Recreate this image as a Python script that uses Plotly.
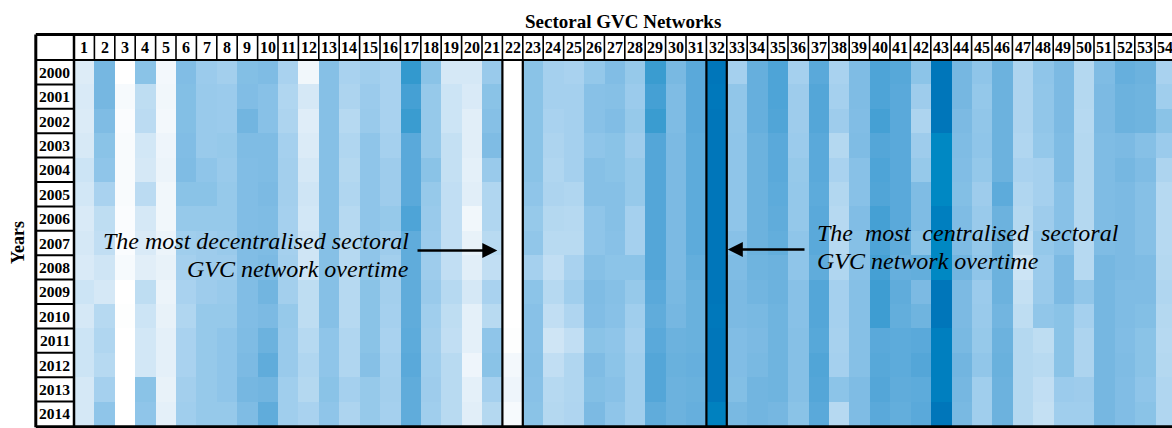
import plotly.graph_objects as go

# Sectors (columns) and years (rows)
sectors = list(range(1, 55))
years = [str(y) for y in range(2000, 2015)]

# Centralisation score per sector, one list per year (0 = least, 100 = most)
v2000 = [16, 59, 0, 51, 5, 55, 44, 41, 54, 56, 38, 6, 53, 38, 42, 38, 80, 51, 20, 20,
         45, 0, 51, 40, 38, 47, 55, 46, 78, 58, 68, 100, 40, 64, 72, 40, 68, 38, 56, 72,
         69, 50, 100, 59, 49, 62, 36, 49, 57, 32, 56, 64, 62, 38]
v2001 = [18, 59, 4, 28, 6, 54, 45, 44, 55, 52, 34, 20, 53, 36, 44, 38, 75, 46, 23, 18,
         51, 0, 51, 40, 40, 52, 53, 44, 75, 56, 68, 99, 48, 64, 72, 43, 70, 40, 56, 72,
         68, 43, 100, 59, 47, 62, 36, 48, 57, 32, 57, 62, 61, 42]
v2002 = [17, 56, 2, 29, 5, 54, 45, 44, 60, 52, 36, 15, 53, 31, 45, 38, 78, 46, 23, 14,
         53, 0, 51, 38, 40, 52, 55, 46, 78, 56, 68, 100, 48, 64, 71, 43, 70, 43, 55, 75,
         68, 36, 100, 57, 48, 62, 36, 48, 57, 31, 57, 62, 61, 51]
v2003 = [19, 51, 3, 21, 7, 55, 45, 46, 56, 56, 40, 17, 53, 34, 49, 40, 68, 46, 26, 14,
         56, 0, 51, 36, 40, 49, 51, 43, 70, 57, 67, 100, 49, 62, 68, 44, 68, 32, 56, 70,
         68, 43, 90, 56, 49, 62, 34, 47, 56, 32, 56, 57, 53, 44]
v2004 = [23, 49, 3, 20, 8, 56, 49, 45, 55, 56, 41, 20, 53, 32, 49, 43, 68, 51, 26, 12,
         45, 0, 51, 34, 40, 53, 51, 46, 70, 57, 67, 100, 49, 62, 68, 46, 68, 38, 52, 72,
         68, 46, 90, 55, 47, 62, 38, 40, 56, 32, 56, 59, 56, 36]
v2005 = [21, 38, 3, 29, 6, 51, 51, 46, 55, 57, 41, 22, 53, 34, 49, 43, 68, 46, 27, 14,
         34, 0, 49, 36, 34, 53, 53, 46, 70, 57, 67, 100, 49, 62, 67, 47, 67, 33, 52, 71,
         68, 56, 90, 54, 43, 67, 34, 40, 52, 32, 56, 57, 53, 31]
v2006 = [18, 28, 2, 20, 6, 46, 46, 46, 55, 56, 40, 21, 53, 31, 49, 46, 72, 45, 27, 6,
         34, 0, 46, 32, 31, 49, 53, 40, 70, 57, 67, 100, 49, 62, 66, 47, 68, 31, 55, 75,
         68, 56, 95, 56, 45, 62, 32, 43, 52, 32, 56, 57, 53, 31]
v2007 = [20, 27, 2, 18, 8, 42, 43, 45, 55, 56, 40, 22, 53, 31, 49, 43, 66, 44, 27, 10,
         30, 0, 48, 30, 30, 49, 52, 40, 70, 57, 67, 100, 52, 62, 65, 49, 68, 31, 53, 72,
         66, 51, 90, 56, 47, 62, 28, 47, 52, 31, 56, 57, 53, 31]
v2008 = [18, 22, 4, 14, 10, 40, 43, 43, 55, 57, 41, 22, 53, 31, 49, 41, 66, 43, 27, 14,
         27, 0, 40, 27, 38, 53, 50, 50, 70, 57, 65, 100, 56, 61, 62, 49, 66, 34, 52, 75,
         64, 65, 90, 60, 49, 62, 23, 44, 57, 31, 59, 57, 56, 32]
v2009 = [23, 20, 0, 28, 8, 38, 43, 45, 55, 60, 41, 28, 53, 31, 51, 41, 66, 45, 31, 20,
         38, 0, 50, 31, 42, 56, 53, 46, 68, 58, 63, 100, 57, 60, 62, 52, 70, 40, 53, 77,
         66, 57, 100, 57, 44, 62, 26, 45, 57, 48, 59, 56, 56, 34]
v2010 = [20, 31, 1, 23, 10, 34, 46, 46, 55, 57, 46, 28, 53, 31, 51, 40, 66, 42, 28, 12,
         30, 0, 52, 27, 35, 55, 52, 42, 66, 59, 63, 99, 57, 58, 61, 52, 70, 40, 53, 77,
         65, 61, 100, 57, 45, 60, 28, 48, 51, 40, 59, 56, 54, 32]
v2011 = [23, 34, 0, 21, 12, 38, 46, 49, 56, 62, 45, 31, 49, 34, 51, 38, 67, 41, 27, 12,
         49, 1, 52, 22, 27, 51, 49, 40, 68, 62, 63, 100, 55, 57, 61, 53, 69, 39, 53, 68,
         67, 68, 95, 58, 46, 62, 32, 28, 51, 36, 59, 55, 51, 31]
v2012 = [23, 31, 0, 21, 12, 38, 46, 49, 57, 66, 45, 34, 49, 34, 53, 40, 68, 42, 30, 7,
         51, 5, 53, 27, 34, 56, 50, 42, 70, 63, 64, 100, 55, 58, 61, 53, 71, 40, 53, 69,
         67, 70, 95, 60, 48, 63, 32, 30, 51, 36, 59, 56, 51, 32]
v2013 = [20, 40, 0, 51, 10, 41, 46, 49, 59, 60, 42, 32, 51, 40, 46, 41, 66, 43, 30, 12,
         40, 7, 52, 31, 34, 54, 52, 42, 70, 62, 63, 100, 54, 60, 61, 53, 70, 50, 56, 70,
         66, 67, 95, 59, 42, 62, 32, 27, 44, 43, 59, 55, 49, 34]
v2014 = [20, 49, 0, 49, 12, 42, 46, 46, 56, 66, 42, 38, 49, 36, 46, 40, 66, 42, 30, 14,
         32, 4, 51, 32, 35, 57, 49, 42, 66, 62, 64, 94, 58, 60, 59, 51, 68, 31, 56, 68,
         65, 68, 100, 58, 42, 62, 32, 26, 42, 42, 59, 55, 51, 34]

# Highlighted sectors
least_central = 22
most_central = 32

z = [v2000, v2001, v2002, v2003, v2004, v2005, v2006, v2007,
     v2008, v2009, v2010, v2011, v2012, v2013, v2014]
row_idx = list(range(len(years)))

# ---- geometry (pixel sizes of one cell and of the plot frame) ----
W, H = 1172, 428
CW, CH = 20.4, 24.4          # cell width / height in px
GRID_LEFT, GRID_TOP = 74, 60  # px position of the heat-map body
PLOT_L, PLOT_T = 33, 32       # plot-area origin in px
HEADER_TOP = 34.5
LABEL_LEFT = 35.8


def px_x(px):
    return 0.5 + (px - GRID_LEFT) / CW


def px_y(py):
    return (py - GRID_TOP) / CH - 0.5


x_range = [px_x(PLOT_L), px_x(W)]
y_range = [px_y(H), px_y(PLOT_T)]   # reversed: 2000 on top

hdr_y0 = px_y(HEADER_TOP)
hdr_y1 = -0.5
lab_x0 = px_x(LABEL_LEFT)
lab_x1 = 0.5
last_row = len(years) - 0.5
right_end = len(sectors) + 0.5

colorscale = [
    [0.00, "#ffffff"], [0.08, "#ecf4fa"], [0.20, "#d5e8f6"], [0.30, "#b8daf1"],
    [0.40, "#a5d0ee"], [0.50, "#8cc4e8"], [0.56, "#7fbce4"], [0.62, "#6cb2de"],
    [0.68, "#5aa9da"], [0.75, "#45a0d4"], [0.80, "#3399ce"], [0.90, "#0088c3"],
    [1.00, "#0076ba"],
]

FONT = "Liberation Serif"

fig = go.Figure(
    go.Heatmap(
        z=z, x=sectors, y=row_idx,
        colorscale=colorscale, zmin=0, zmax=100,
        showscale=False, xgap=0, ygap=0, hoverinfo="skip",
    )
)


def line(x0, y0, x1, y1, w):
    return dict(type="line", xref="x", yref="y", x0=x0, y0=y0, x1=x1, y1=y1,
                line=dict(color="black", width=w), layer="above")


shapes = []
# header cells
for j in sectors:
    shapes.append(line(j - 0.5, hdr_y0, j - 0.5, hdr_y1, 1.6))
# year label cells
for i in range(len(years)):
    shapes.append(line(lab_x0, i - 0.5, lab_x1, i - 0.5, 2))
# header bottom and label column right edge
shapes.append(line(lab_x0, hdr_y1, right_end, hdr_y1, 2))
shapes.append(line(lab_x1, hdr_y0, lab_x1, last_row, 2.5))
# outer frame
shapes.append(line(lab_x0, hdr_y0, right_end, hdr_y0, 3))
shapes.append(line(lab_x0, hdr_y0, lab_x0, last_row + 0.05, 3))
shapes.append(line(lab_x0, last_row + 0.03, right_end, last_row + 0.03, 3))
# highlighted sector columns
for s in (least_central, most_central):
    shapes.append(line(s - 0.5, hdr_y1, s - 0.5, last_row, 2.2))
    shapes.append(line(s + 0.5, hdr_y1, s + 0.5, last_row, 2.2))

annotations = []
hdr_mid = (hdr_y0 + hdr_y1) / 2
for j in sectors:
    annotations.append(dict(x=j, y=hdr_mid, xref="x", yref="y", text=f"<b>{j}</b>",
                            showarrow=False, font=dict(family=FONT, size=16, color="black"),
                            xanchor="center", yanchor="middle"))
lab_mid = (lab_x0 + lab_x1) / 2
for i, yr in enumerate(years):
    annotations.append(dict(x=lab_mid, y=i, xref="x", yref="y", text=f"<b>{yr}</b>",
                            showarrow=False, font=dict(family=FONT, size=15.5, color="black"),
                            xanchor="center", yanchor="middle"))

# title and row axis name
annotations.append(dict(x=(0.5 + right_end - 0.2) / 2, y=1 + (PLOT_T - 22) / (H - PLOT_T),
                        xref="x", yref="paper", text="<b>Sectoral GVC Networks</b>",
                        showarrow=False, font=dict(family=FONT, size=19, color="black"),
                        xanchor="center", yanchor="middle"))
annotations.append(dict(x=(18 - PLOT_L) / (W - PLOT_L), y=px_y(243), xref="paper", yref="y",
                        text="<b>Years</b>", textangle=-90, showarrow=False,
                        font=dict(family=FONT, size=18, color="black"),
                        xanchor="center", yanchor="middle"))

# call-outs
note_font = dict(family=FONT, size=24, color="black", style="italic")
annotations += [
    dict(x=px_x(411), y=px_y(241), xref="x", yref="y", text="The most decentralised sectoral",
         showarrow=False, font=note_font, xanchor="right", yanchor="middle"),
    dict(x=px_x(411), y=px_y(269), xref="x", yref="y", text="GVC network overtime",
         showarrow=False, font=note_font, xanchor="right", yanchor="middle"),
    dict(x=px_x(815), y=px_y(233), xref="x", yref="y",
         text="The\u00a0\u00a0most\u00a0\u00a0centralised\u00a0\u00a0sectoral",
         showarrow=False, font=note_font, xanchor="left", yanchor="middle"),
    dict(x=px_x(815), y=px_y(261), xref="x", yref="y", text="GVC network overtime",
         showarrow=False, font=note_font, xanchor="left", yanchor="middle"),
    # arrows pointing at the highlighted columns
    dict(x=least_central - 0.5 - 0.25, y=px_y(250.5), ax=px_x(416), ay=px_y(250.5),
         xref="x", yref="y", axref="x", ayref="y", text="", showarrow=True,
         arrowhead=2, arrowsize=1.2, arrowwidth=2.5, arrowcolor="black", standoff=0),
    dict(x=most_central + 0.5 + 0.05, y=px_y(249.5), ax=px_x(806), ay=px_y(249.5),
         xref="x", yref="y", axref="x", ayref="y", text="", showarrow=True,
         arrowhead=2, arrowsize=1.2, arrowwidth=2.5, arrowcolor="black", standoff=0),
]

fig.update_layout(
    width=W, height=H,
    margin=dict(l=PLOT_L, r=0, t=PLOT_T, b=0, pad=0),
    paper_bgcolor="white", plot_bgcolor="white",
    xaxis=dict(range=x_range, showticklabels=False, showgrid=False, zeroline=False,
               ticks="", fixedrange=True),
    yaxis=dict(range=y_range, showticklabels=False, showgrid=False, zeroline=False,
               ticks="", fixedrange=True),
    shapes=shapes, annotations=annotations, showlegend=False,
)

fig.write_html("out.html")
